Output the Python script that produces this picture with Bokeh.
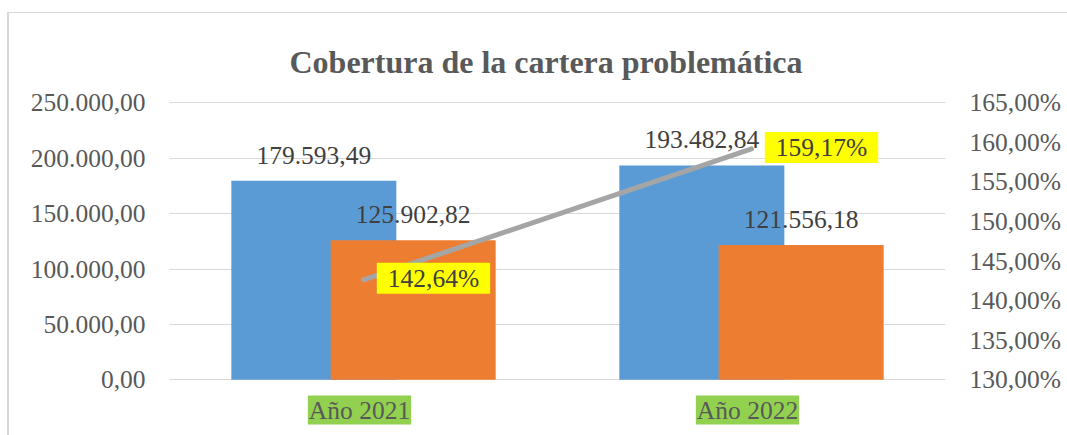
from bokeh.plotting import figure
from bokeh.models import (Range1d, LinearAxis, FixedTicker, ColumnDataSource, LabelSet,
                          Label, InlineStyleSheet)
from bokeh.embed import file_html
from bokeh.resources import INLINE

# ---------------- data ----------------
categories = ["Año 2021", "Año 2022"]
serie_azul = [179593.49, 193482.84]
serie_naranja = [125902.82, 121556.18]
cobertura = [142.64, 159.17]
left_ticks = [0, 50000, 100000, 150000, 200000, 250000]
right_ticks = [130, 135, 140, 145, 150, 155, 160, 165]
title_text = "Cobertura de la cartera problemática"


def fmt_es(v, dec=2):
    s = f"{v:,.{dec}f}"
    return s.replace(",", "X").replace(".", ",").replace("X", ".")


FONT = "Liberation Serif"
FS = "25.5px"
AXIS_COLOR = "#595959"
LABEL_COLOR = "#404040"

# ---------------- layout (pixels) ----------------
W, H = 1067, 435
FRAME_L, FRAME_R = 169, 945
TOP_PX, ZERO_PX = 102.3, 379.3          # pixel rows of the top tick and of zero
L_MIN, L_MAX = left_ticks[0], left_ticks[-1]
R_MIN, R_MAX = right_ticks[0], right_ticks[-1]
kl = (L_MAX - L_MIN) / (ZERO_PX - TOP_PX)
kr = (R_MAX - R_MIN) / (ZERO_PX - TOP_PX)
y_lo = L_MIN - (H - ZERO_PX) * kl
y_hi = L_MAX + TOP_PX * kl
r_lo = R_MIN - (H - ZERO_PX) * kr
r_hi = R_MAX + TOP_PX * kr

p = figure(width=W, height=H, output_backend="svg", toolbar_location=None,
           x_range=Range1d(0, len(categories)), y_range=Range1d(y_lo, y_hi),
           min_border_left=FRAME_L, min_border_right=W - FRAME_R,
           min_border_top=0, min_border_bottom=0)
p.outline_line_color = None
p.background_fill_color = "white"
p.border_fill_color = "white"
p.xaxis.visible = False
p.xgrid.visible = False
p.ygrid.grid_line_color = "#D9D9D9"
p.ygrid.grid_line_width = 1
p.ygrid.ticker = FixedTicker(ticks=left_ticks)

yax = p.yaxis[0]
yax.ticker = FixedTicker(ticks=left_ticks)
yax.major_label_overrides = {t: fmt_es(t) for t in left_ticks}
yax.axis_line_color = None
yax.major_tick_line_color = None
yax.minor_tick_line_color = None
yax.major_tick_out = 0
yax.major_label_standoff = 24
yax.major_label_text_font = FONT
yax.major_label_text_font_size = FS
yax.major_label_text_color = AXIS_COLOR

p.extra_y_ranges = {"pct": Range1d(r_lo, r_hi)}
rax = LinearAxis(y_range_name="pct", ticker=FixedTicker(ticks=right_ticks))
rax.major_label_overrides = {t: fmt_es(t) + "%" for t in right_ticks}
rax.axis_line_color = None
rax.major_tick_line_color = None
rax.minor_tick_line_color = None
rax.major_tick_out = 0
rax.major_label_standoff = 24
rax.major_label_text_font = FONT
rax.major_label_text_font_size = FS
rax.major_label_text_color = AXIS_COLOR
p.add_layout(rax, "right")

# positions
xc = [i + 0.5 for i in range(len(categories))]
off = 0.128
bw = 0.4253
xa = [x - off for x in xc]
xb = [x + off for x in xc]

src_a = ColumnDataSource(dict(x=xa, top=serie_azul, text=[fmt_es(v) for v in serie_azul]))
src_b = ColumnDataSource(dict(x=xb, top=serie_naranja, text=[fmt_es(v) for v in serie_naranja]))
p.vbar(x="x", top="top", bottom=0, width=bw, source=src_a, fill_color="#5B9BD5", line_color=None)
p.vbar(x="x", top="top", bottom=0, width=bw, source=src_b, fill_color="#ED7D31", line_color=None)

for src in (src_a, src_b):
    p.add_layout(LabelSet(x="x", y="top", text="text", source=src, text_align="center",
                          text_baseline="alphabetic", y_offset=17, text_font=FONT,
                          text_font_size=FS, text_color=LABEL_COLOR))

src_l = ColumnDataSource(dict(x=xc, y=cobertura, text=[fmt_es(v) + "%" for v in cobertura]))
p.line(x="x", y="y", source=src_l, y_range_name="pct", line_color="#A5A5A5",
       line_width=5, line_cap="round")

for x, v in zip(xc, cobertura):
    p.add_layout(Label(x=x, y=v, y_range_name="pct", text=fmt_es(v) + "%", x_offset=70,
                       y_offset=1.5, text_align="center", text_baseline="middle",
                       text_font=FONT, text_font_size=FS, text_color=LABEL_COLOR,
                       background_fill_color="#FFFF00",
                       padding=dict(left=11, right=11, top=1, bottom=1)))

# category labels with green highlight
for x, c in zip(xc, categories):
    p.add_layout(Label(x=x, y=0, text=c, x_offset=-4, y_offset=-30.3, text_align="center",
                       text_baseline="middle", text_font=FONT, text_font_size=FS,
                       text_color=AXIS_COLOR, background_fill_color="#92D050",
                       padding=dict(left=1, right=1, top=0, bottom=0)))

# title
p.add_layout(Label(x=len(categories) / 2, y=L_MAX, text=title_text, x_offset=-11.5, y_offset=40.6,
                   text_align="center", text_baseline="alphabetic", text_font=FONT,
                   text_font_size="32px", text_font_style="bold", text_color=AXIS_COLOR))

# chart border (decoration)
p.stylesheets = [InlineStyleSheet(css="""
:host { position: relative; }
:host::after {
  content: ""; position: absolute; left: 7px; top: 12px; right: -10px; bottom: -10px;
  border-top: 1px solid #D9D9D9; border-left: 2px solid #D9D9D9;
  pointer-events: none; z-index: 10;
}
""")]

open("out.html", "w").write(file_html(p, INLINE))
